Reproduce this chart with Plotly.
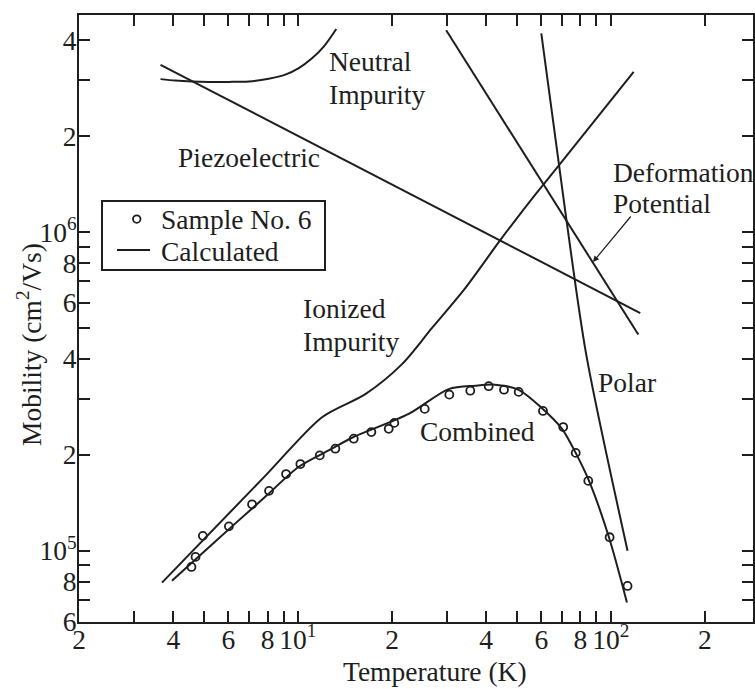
import numpy as np
import plotly.graph_objects as go

# ---------------- data ----------------
neutral_T = [3.64, 4.06, 4.59, 5.19, 6.02, 6.97, 8.07, 9.12, 10.07, 11.1, 12.1, 13.27]
neutral_mu = [3.02e6, 2.99e6, 2.97e6, 2.96e6, 2.96e6, 2.97e6, 3.03e6, 3.12e6, 3.27e6, 3.51e6, 3.82e6, 4.34e6]

piezo_T = [3.64, 124.3]
piezo_mu = [3.35e6, 5.57e5]

deform_T = [29.8, 122.5]
deform_mu = [4.3e6, 4.77e5]

polar_T = [60.0, 71.6, 83.5, 113.2]
polar_mu = [4.2e6, 1.159e6, 4.13e5, 1.0e5]

ionized_T = [3.68, 7.88, 11.95, 16.44, 21.53, 26.85, 34.29, 44.36, 56.0, 68.2, 118.4]
ionized_mu = [7.94e4, 1.72e5, 2.624e5, 3.10e5, 3.85e5, 5.0e5, 6.67e5,
              9.43e5, 1.272e6, 1.615e6, 3.18e6]

combined_T = [3.96, 4.83, 6.16, 7.88, 10.07, 12.86, 14.9, 22.6, 30.35, 36.9, 42.76, 50.8, 60.3,
              69.9, 77.0, 85.0, 98.5, 112.7]
combined_mu = [8.04e4, 9.61e4, 1.192e5, 1.478e5, 1.834e5, 2.09e5, 2.262e5, 2.687e5, 3.215e5, 3.295e5,
               3.32e5, 3.197e5, 2.8e5, 2.413e5, 2.042e5, 1.667e5, 1.11e5, 6.88e4]

sample_T = [4.57, 4.71, 4.97, 6.02, 7.14, 8.09, 9.17, 10.19, 11.75, 13.18, 15.09, 17.18, 19.52, 20.34,
            25.44, 30.49, 35.58, 40.74, 45.6, 50.8, 60.75, 70.5, 77.3, 84.8, 99.2, 113.2]
sample_mu = [8.89e4, 9.56e4, 1.113e5, 1.192e5, 1.398e5, 1.541e5, 1.74e5, 1.87e5, 1.991e5, 2.09e5,
             2.246e5, 2.357e5, 2.413e5, 2.518e5, 2.786e5, 3.088e5, 3.178e5, 3.283e5, 3.201e5, 3.15e5,
             2.745e5, 2.443e5, 2.027e5, 1.656e5, 1.102e5, 7.75e4]

x_tickvals = [2, 3, 4, 5, 6, 7, 8, 9, 10, 20, 30, 40, 50, 60, 70, 80, 90, 100, 200]
x_ticktext = ["2", "", "4", "", "6", "", "8", "", "10<sup>1</sup>", "2", "", "4", "", "6", "", "8", "",
              "10<sup>2</sup>", "2"]
y_tickvals = [6e4, 7e4, 8e4, 9e4, 1e5, 2e5, 3e5, 4e5, 5e5, 6e5, 7e5, 8e5, 9e5, 1e6, 2e6, 3e6, 4e6]
y_ticktext = ["6", "", "8", "", "10<sup>5</sup>", "2", "", "4", "", "6", "", "8", "",
              "10<sup>6</sup>", "2", "", "4"]

legend_names = ["Sample No. 6", "Calculated"]

# ---------------- layout helpers ----------------
W, H = 755, 689
ML, MR, MT, MB = 79, 2, 15, 67
PW, PH = W - ML - MR, H - MT - MB
INK = "#1e1e1e"
FONT = "Liberation Serif"
FS = 27.5


def pxx(x):
    return (x - ML) / PW


def pxy(y):
    return 1 - (y - MT) / PH


fig = go.Figure()

for T, mu, shape in [(neutral_T, neutral_mu, "spline"), (piezo_T, piezo_mu, "linear"),
                     (deform_T, deform_mu, "linear"), (polar_T, polar_mu, "spline"),
                     (ionized_T, ionized_mu, "spline")]:
    fig.add_trace(go.Scatter(x=T, y=mu, mode="lines",
                             line=dict(color=INK, width=2, shape=shape, smoothing=0.8),
                             showlegend=False, hoverinfo="skip"))

fig.add_trace(go.Scatter(x=sample_T, y=sample_mu, mode="markers", name=legend_names[0],
                         marker=dict(symbol="circle-open", size=8, color=INK, line=dict(width=1.8, color=INK)),
                         showlegend=False))
fig.add_trace(go.Scatter(x=combined_T, y=combined_mu, mode="lines", name=legend_names[1],
                         line=dict(color=INK, width=2, shape="spline", smoothing=0.8), showlegend=False))

axis_common = dict(type="log", ticks="inside", ticklen=11, tickwidth=2, tickcolor=INK,
                   showline=True, linewidth=2, linecolor=INK, mirror="ticks",
                   showgrid=False, zeroline=False, tickfont=dict(family=FONT, size=FS, color=INK))
fig.update_xaxes(range=[np.log10(2) - 0.0005, np.log10(285)], tickvals=x_tickvals,
                 ticktext=x_ticktext, tickangle=0, ticklabelstandoff=-8, **axis_common)
fig.update_yaxes(range=[np.log10(6e4) - 0.002, np.log10(4.8e6)], tickvals=y_tickvals,
                 ticktext=y_ticktext, ticklabelstandoff=-5, **axis_common)

labels = [
    ("Neutral", 327, 61), ("Impurity", 327, 94),
    ("Piezoelectric", 176, 158),
    ("Deformation", 611, 172), ("Potential", 611, 203),
    ("Ionized", 301, 308), ("Impurity", 301, 341),
    ("Combined", 418, 431),
    ("Polar", 596, 382),
    (legend_names[0], 159, 219), (legend_names[1], 159, 251),
]
ann = []
for t, x, y in labels:
    ann.append(dict(text=t, x=pxx(x), y=pxy(y), xref="paper", yref="paper", xanchor="left",
                    yanchor="middle", showarrow=False, font=dict(family=FONT, size=FS, color=INK)))
# arrow for Deformation Potential
ann.append(dict(text="", x=pxx(593), y=pxy(262), xref="paper", yref="paper", showarrow=True,
                ax=39, ay=-47, arrowhead=2, arrowsize=1, arrowwidth=1.2, arrowcolor=INK))
# axis titles
ann.append(dict(text="Temperature (K)", x=pxx(435), y=pxy(671), xref="paper", yref="paper",
                xanchor="center", yanchor="middle", showarrow=False,
                font=dict(family=FONT, size=FS, color=INK)))
ann.append(dict(text="Mobility (cm<sup>2</sup>/Vs)", x=pxx(29), y=pxy(345), xref="paper", yref="paper",
                xanchor="center", yanchor="middle", textangle=-90, showarrow=False,
                font=dict(family=FONT, size=FS, color=INK)))

# legend frame and keys
shapes = [
    dict(type="rect", xref="paper", yref="paper", x0=pxx(102), x1=pxx(325), y0=pxy(270), y1=pxy(201),
         line=dict(color=INK, width=2), fillcolor="white", layer="above"),
    dict(type="circle", xref="paper", yref="paper", x0=pxx(133), x1=pxx(140.5), y0=pxy(222.8),
         y1=pxy(215.3), line=dict(color=INK, width=1.8), layer="above"),
    dict(type="line", xref="paper", yref="paper", x0=pxx(117), x1=pxx(150), y0=pxy(250), y1=pxy(250),
         line=dict(color=INK, width=2), layer="above"),
]

fig.update_layout(
    width=W, height=H, margin=dict(l=ML, r=MR, t=MT, b=MB, autoexpand=False),
    paper_bgcolor="white", plot_bgcolor="white",
    font=dict(family=FONT, size=FS, color=INK),
    annotations=ann, shapes=shapes, showlegend=False,
)

fig.write_html("out.html")
